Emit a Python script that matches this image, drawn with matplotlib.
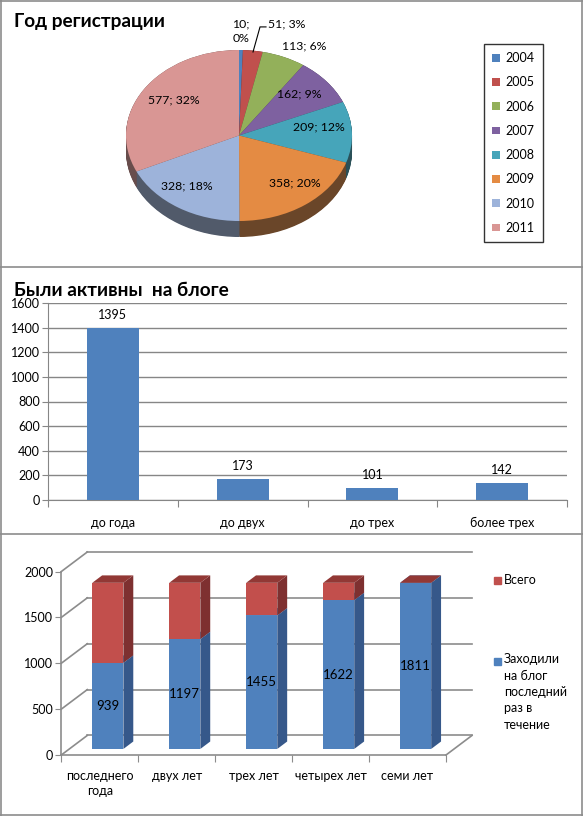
import matplotlib
matplotlib.use("Agg")
import matplotlib.pyplot as plt
import numpy as np
from matplotlib.patches import Polygon, Rectangle
from matplotlib.lines import Line2D
from matplotlib.ticker import FixedLocator, NullFormatter

# ---------------- data ----------------
pie_years = ["2004", "2005", "2006", "2007", "2008", "2009", "2010", "2011"]
pie_values = [10, 51, 113, 162, 209, 358, 328, 577]
pie_pcts = ["0%", "3%", "6%", "9%", "12%", "20%", "18%", "32%"]
pie_colors = ["#4F81BD", "#C0504D", "#93B05A", "#7E61A0", "#46A5BA", "#E48B43", "#9DB3DA", "#D99694"]

act_categories = ["до года", "до двух", "до трех", "более трех"]
act_values = [1395, 173, 101, 142]

last_categories = ["последнего\nгода", "двух лет", "трех лет", "четырех лет", "семи лет"]
last_visit = [939, 1197, 1455, 1622, 1811]
last_rest = [872, 614, 356, 189, 0]
series_names = ["Всего", "Заходили\nна блог\nпоследний\nраз в\nтечение"]

# ---------------- figure ----------------
W, H = 583, 816
plt.rcParams['font.family'] = ['Lato', 'DejaVu Sans']
fig = plt.figure(figsize=(W / 100, H / 100), dpi=100)
fig.patch.set_facecolor("white")


def fbox(l, t, r, b):
    return [l / W, 1 - b / H, (r - l) / W, (b - t) / H]


def fx(x):
    return x / W


def fy(y):
    return 1 - y / H


border = "#8C8C8C"
for seg in [((0.5, 0.5), (0, H)), ((W - 1, W - 1), (0, H)), ((0, W), (0.5, 0.5)),
            ((0, W), (H - 1, H - 1)), ((0, W), (267, 267)), ((0, W), (534, 534))]:
    fig.add_artist(Line2D([fx(v) for v in seg[0]], [fy(v) for v in seg[1]],
                          color=border, lw=1.2, transform=fig.transFigure))

# ---------------- panel 1: 3D pie ----------------
fig.text(fx(14), fy(22), "Год регистрации", fontsize=13.7, fontweight="bold",
         va="center", ha="left")

cx, cy, rx, ry = 239, 135.5, 113, 85.5
axp = fig.add_axes(fbox(cx - 130, cy - 110, cx + 130, cy + 110))
depth = 16 / ry


def darken(c, f):
    rgb = np.array(matplotlib.colors.to_rgb(c))
    grey = rgb.mean()
    rgb = 0.8 * rgb + 0.2 * grey
    return tuple(np.clip(rgb * f, 0, 1))


dark_cols = [darken(c, 0.5) for c in pie_colors]
n_layers = 24
for d in np.linspace(depth, 0.0, n_layers):
    axp.pie(pie_values, colors=dark_cols, startangle=90, counterclock=False,
            center=(0, -d), radius=1, wedgeprops=dict(linewidth=0))
wedges, _ = axp.pie(pie_values, colors=pie_colors, startangle=90, counterclock=False,
                    center=(0, 0), radius=1, wedgeprops=dict(linewidth=0))
axp.set_aspect("auto")
axp.set_xlim(-130 / rx, 130 / rx)
axp.set_ylim(-110 / ry, 110 / ry)
axp.axis("off")

label_pos = [(0.02, 1.215), (0.42, 1.30), (0.575, 1.047), (0.53, 0.485),
             (0.708, 0.099), (0.496, -0.556), (-0.46, -0.59), (-0.575, 0.415)]
for i, (v, p) in enumerate(zip(pie_values, pie_pcts)):
    txt = f"{v};\n{p}" if i == 0 else f"{v}; {p}"
    axp.text(label_pos[i][0], label_pos[i][1], txt, ha="center", va="center",
             fontsize=8.8, linespacing=1.4, clip_on=False)
axp.plot([0.124, 0.186, 0.239], [0.977, 1.27, 1.27], color="black", lw=0.8,
         clip_on=False)

leg = fig.legend(wedges, pie_years, loc="upper left",
                 bbox_to_anchor=(fx(484), fy(44)), fontsize=9, frameon=True,
                 fancybox=False, edgecolor="black", handlelength=0.6,
                 handleheight=0.6, handletextpad=0.45, labelspacing=0.98,
                 borderpad=0.65, borderaxespad=0)
leg.get_frame().set_linewidth(1.0)

# ---------------- panel 2: bars ----------------
fig.text(fx(14), fy(290), "Были активны  на блоге", fontsize=13.7, fontweight="bold",
         va="center", ha="left")
axb = fig.add_axes(fbox(48, 303, 567, 500))
xb = np.arange(len(act_categories))
bars = axb.bar(xb, act_values, width=0.4, color="#4F81BD", zorder=3)
axb.set_xlim(-0.5, len(act_categories) - 0.5)
axb.set_ylim(0, 1600)
axb.set_yticks(np.arange(0, 1601, 200))
axb.yaxis.grid(True, color="#868686", lw=1.0)
axb.set_axisbelow(True)
for s in ["top", "right"]:
    axb.spines[s].set_visible(False)
for s in ["left", "bottom"]:
    axb.spines[s].set_color("#868686")
axb.xaxis.set_major_locator(FixedLocator(np.arange(-0.5, len(act_categories), 1.0)))
axb.xaxis.set_major_formatter(NullFormatter())
axb.xaxis.set_minor_locator(FixedLocator(xb))
axb.set_xticklabels(act_categories, minor=True)
axb.tick_params(axis="x", which="major", direction="out", length=5, color="#868686")
axb.tick_params(axis="x", which="minor", length=0, pad=12, labelsize=9)
axb.tick_params(axis="y", direction="out", length=4, color="#868686", labelsize=9, pad=2)
for b, v in zip(bars, act_values):
    axb.annotate(str(v), (b.get_x() + b.get_width() / 2, v), xytext=(0, 5),
                 textcoords="offset points", ha="center", va="bottom", fontsize=9)

# ---------------- panel 3: 3D stacked bars ----------------
dxc = 26 / 77.0          # depth in category units
dyv = 213.0              # depth in value units
axs = fig.add_axes(fbox(61.3, 552, 472, 755))
ncat = len(last_categories)
axs.set_xlim(0, ncat + dxc)
axs.set_ylim(0, 2000 + dyv)
grid_c = "#8C8C8C"
for v in range(0, 2001, 500):
    axs.plot([dxc, ncat + dxc], [v + dyv, v + dyv], color=grid_c, lw=1.2, zorder=1,
             clip_on=False)
    axs.plot([0, dxc], [v, v + dyv], color=grid_c, lw=1.2, zorder=1, clip_on=False)
axs.plot([ncat, ncat + dxc], [0, dyv], color=grid_c, lw=1.2, zorder=1, clip_on=False)
for s in ["top", "right"]:
    axs.spines[s].set_visible(False)
axs.spines["left"].set_bounds(0, 2000)
axs.spines["bottom"].set_bounds(0, ncat)
for s in ["left", "bottom"]:
    axs.spines[s].set_color(grid_c)
    axs.spines[s].set_linewidth(1.2)
axs.set_yticks(np.arange(0, 2001, 500))
axs.tick_params(axis="y", direction="out", length=4, color=grid_c, labelsize=9, pad=2)
axs.xaxis.set_major_locator(FixedLocator(np.arange(0, ncat + 1)))
axs.xaxis.set_major_formatter(NullFormatter())
axs.xaxis.set_minor_locator(FixedLocator(np.arange(ncat) + 0.5))
axs.set_xticklabels(last_categories, minor=True)
axs.tick_params(axis="x", which="major", direction="out", length=5, color=grid_c)
axs.tick_params(axis="x", which="minor", length=0, pad=11, labelsize=9)
for lab in axs.get_xticklabels(minor=True):
    lab.set_linespacing(1.3)

bw = 0.405
z0, zd = 0.31, 0.38
xs0, ys0 = z0 * dxc, z0 * dyv
sx, sy = zd * dxc, zd * dyv
faces = {"blue": ("#4F81BD", "#36588A", "#5A86BE"),
         "red": ("#C24F4C", "#7E3030", "#923835")}
xc = np.arange(ncat) + 0.5
front_x = xc - bw / 2 + xs0
for i in range(ncat):
    base = 0
    for val, key in [(last_visit[i], "blue"), (last_rest[i], "red")]:
        fc, sc, tc = faces[key]
        x0 = front_x[i]
        yb = base + ys0
        yt = base + val + ys0
        axs.bar(x0, val, width=bw, bottom=yb, align="edge", color=fc, lw=0, zorder=3)
        axs.add_patch(Polygon([(x0 + bw, yb), (x0 + bw + sx, yb + sy),
                               (x0 + bw + sx, yt + sy), (x0 + bw, yt)],
                              closed=True, color=sc, lw=0, zorder=3))
        axs.add_patch(Polygon([(x0, yt), (x0 + bw, yt), (x0 + bw + sx, yt + sy),
                               (x0 + sx, yt + sy)], closed=True, color=tc, lw=0, zorder=3))
        base += val
    axs.text(xc[i] + xs0, last_visit[i] / 2 + ys0, str(last_visit[i]), ha="center",
             va="center", fontsize=9.5, zorder=5)

# legend for panel 3
fig.add_artist(Rectangle((fx(494), fy(584)), 7 / W, 7 / H, color="#C0504D",
                         transform=fig.transFigure))
fig.text(fx(504), fy(580), series_names[0], fontsize=9, va="center", ha="left")
fig.add_artist(Rectangle((fx(494), fy(665)), 7 / W, 7 / H, color="#4F81BD",
                         transform=fig.transFigure))
fig.text(fx(504), fy(653), series_names[1], fontsize=9, va="top", ha="left",
         linespacing=1.45)

fig.savefig("out.png", dpi=100, facecolor="white")
